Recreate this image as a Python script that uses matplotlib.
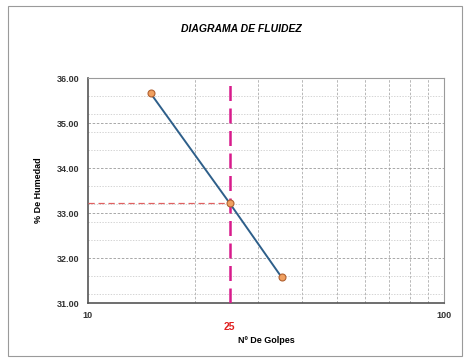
import matplotlib
matplotlib.use("Agg")
import matplotlib.pyplot as plt
from matplotlib.ticker import FixedLocator, NullFormatter
import numpy as np

# Liquid limit test data
golpes = [15, 25, 35]
humedad = [35.66, 33.22, 31.57]
golpes_ref = 25
humedad_ref = 33.22
y_ticks = [31.0, 32.0, 33.0, 34.0, 35.0, 36.0]
x_ticks = [10, 100]

plt.rcParams["font.family"] = ["Liberation Sans", "DejaVu Sans"]

fig = plt.figure(figsize=(4.68, 3.6), dpi=100)
fig.patch.set_facecolor("white")

# outer chart frame
frame = plt.Rectangle((0.017, 0.012), 0.97, 0.972, transform=fig.transFigure,
                      fill=False, edgecolor="#9a9a9a", linewidth=0.8)
fig.add_artist(frame)

ax = fig.add_axes([0.188, 0.158, 0.761, 0.625])
ax.set_xscale("log")
ax.set_xlim(10, 100)
ax.set_ylim(31, 36)

# grid
ax.xaxis.set_major_locator(FixedLocator(x_ticks))
ax.xaxis.set_minor_locator(FixedLocator(list(range(20, 100, 10))))
ax.xaxis.set_minor_formatter(NullFormatter())
ax.set_xticklabels([str(t) for t in x_ticks])
ax.yaxis.set_major_locator(FixedLocator(y_ticks))
ax.yaxis.set_minor_locator(FixedLocator(list(np.arange(31.2, 36.0, 0.4))))
ax.set_yticklabels([f"{t:.2f}" for t in y_ticks])

ax.grid(which="major", axis="y", color="#9a9a9a", linestyle=(0, (3, 2)), linewidth=0.6)
ax.grid(which="minor", axis="y", color="#c4c4c4", linestyle=(0, (2, 2)), linewidth=0.5)
ax.grid(which="minor", axis="x", color="#acacac", linestyle=(0, (3, 2)), linewidth=0.6)

ax.tick_params(axis="both", which="both", length=0, labelsize=6.5, pad=6)
for lbl in ax.get_xticklabels() + ax.get_yticklabels():
    lbl.set_fontweight("bold")
    lbl.set_color("#333333")

for side in ["top", "right"]:
    ax.spines[side].set_color("#9a9a9a")
    ax.spines[side].set_linewidth(0.8)
for side in ["left", "bottom"]:
    ax.spines[side].set_color("#555555")
    ax.spines[side].set_linewidth(1.2)

# reference lines at 25 blows
ax.axvline(golpes_ref, color="#d81b8c", linestyle=(0, (6, 3)), linewidth=1.8, zorder=3)
ax.plot([10, golpes_ref], [humedad_ref, humedad_ref], color="#e06060",
        linestyle=(0, (5, 3)), linewidth=0.9, zorder=3)

# flow curve
ax.plot(golpes, humedad, color="#2e5f8a", linewidth=1.4, zorder=4)
ax.plot(golpes, humedad, linestyle="none", marker="o", markersize=5,
        markerfacecolor="#f0a060", markeredgecolor="#b06030", markeredgewidth=0.8, zorder=5)

ax.text(golpes_ref, -0.085, "25", transform=ax.get_xaxis_transform(), ha="center", va="top",
        color="#e02020", fontsize=7.5, fontweight="bold")

ax.set_xlabel("Nº De Golpes", fontsize=6.5, fontweight="bold", labelpad=11)
ax.set_ylabel("% De Humedad", fontsize=6.5, fontweight="bold", labelpad=10)

fig.text(0.515, 0.92, "DIAGRAMA DE FLUIDEZ", ha="center", va="center",
         fontsize=7.5, fontweight="bold", fontstyle="italic")

fig.savefig("out.png", dpi=100, facecolor="white")
